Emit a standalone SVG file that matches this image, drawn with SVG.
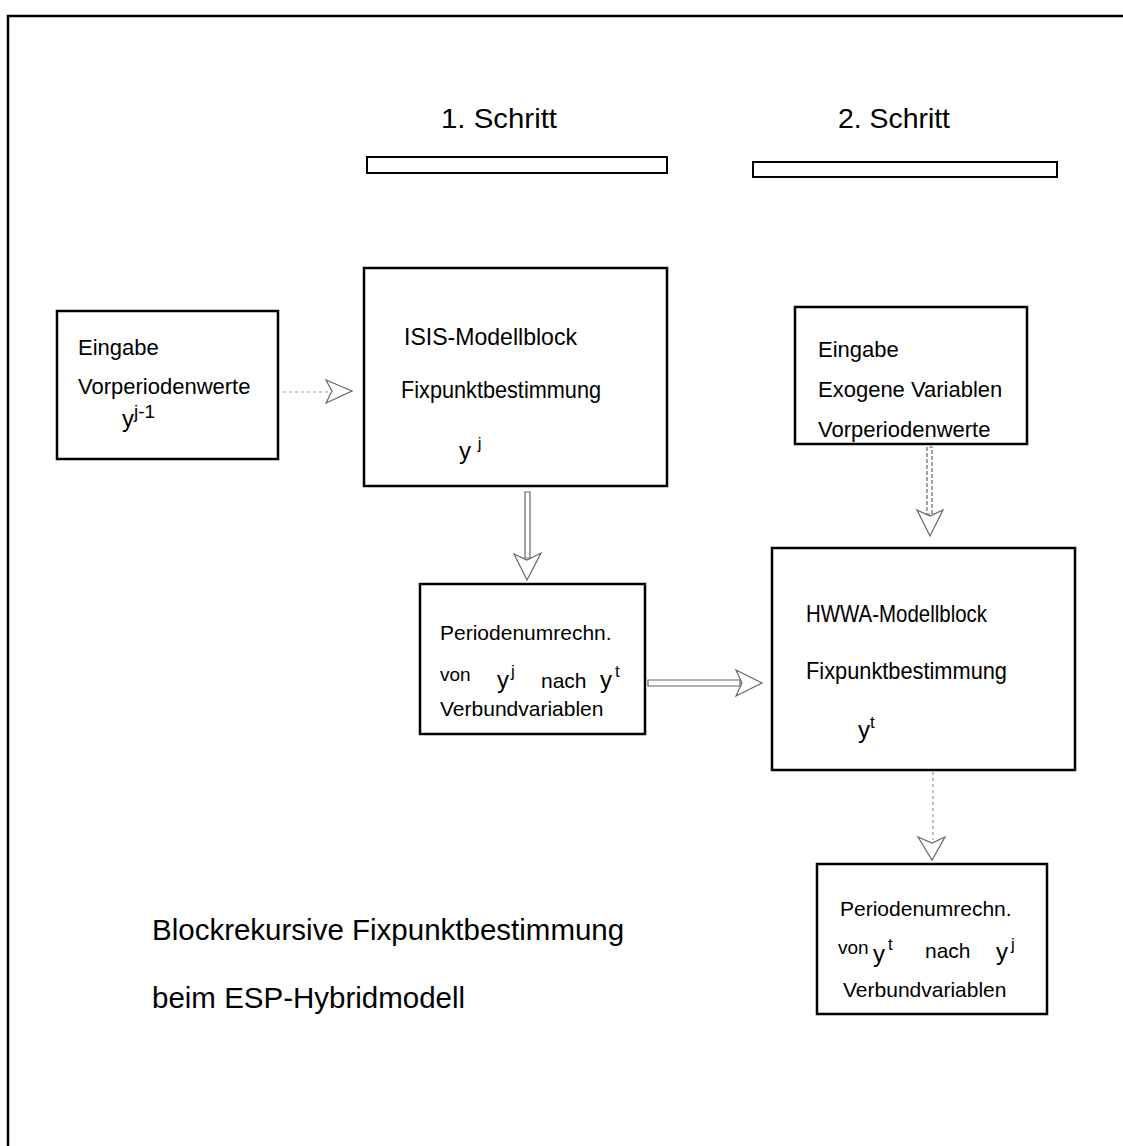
<svg xmlns="http://www.w3.org/2000/svg" width="1123" height="1146" viewBox="0 0 1123 1146">
<style>
 text{font-family:"Liberation Sans",Arial,sans-serif;fill:#000}
 .box{fill:#fff;stroke:#000;stroke-width:2.5}
 .bar{fill:#fff;stroke:#000;stroke-width:2}
 .t{font-size:22px}
 .s{font-size:21px}
 .big{font-size:24px}
 .title{font-size:28px}
 .cap{font-size:29.5px}
 .yv{font-size:24px}
 .sup{font-size:17px}
 .arr{fill:#fff;stroke:#666;stroke-width:1.2}
 .dot{fill:none;stroke:#999;stroke-width:1.2;stroke-dasharray:3 3}
</style>
<rect width="1123" height="1146" fill="#fff"/>
<path d="M8,1146 V16 H1123" fill="none" stroke="#000" stroke-width="2.5"/>

<g id="step1">
 <text x="441" y="128" class="title" textLength="116" lengthAdjust="spacingAndGlyphs">1. Schritt</text>
 <rect class="bar" x="367" y="157" width="300" height="16"/>
</g>
<g id="step2">
 <text x="838" y="128" class="title" textLength="112" lengthAdjust="spacingAndGlyphs">2. Schritt</text>
 <rect class="bar" x="753" y="162" width="304" height="15"/>
</g>

<g id="eingabe1">
 <rect class="box" x="57" y="311" width="221" height="148"/>
 <text x="78" y="355" class="t">Eingabe</text>
 <text x="78" y="394" class="t">Vorperiodenwerte</text>
 <text x="122" y="427" class="yv">y<tspan font-size="19" dy="-9">j-1</tspan></text>
</g>

<g id="isis">
 <rect class="box" x="364" y="268" width="303" height="218"/>
 <text x="404" y="345" class="big" textLength="173" lengthAdjust="spacingAndGlyphs">ISIS-Modellblock</text>
 <text x="401" y="398" class="big" textLength="200" lengthAdjust="spacingAndGlyphs">Fixpunktbestimmung</text>
 <text x="459" y="459" class="yv">y <tspan class="sup" dy="-10">j</tspan></text>
</g>

<g id="periode1">
 <rect class="box" x="420" y="584" width="225" height="150"/>
 <text x="440" y="640" class="s">Periodenumrechn.</text>
 <text x="440" y="681" font-size="19">von</text>
 <text x="497" y="688" class="yv">y</text>
 <text x="511" y="677" class="sup">j</text>
 <text x="541" y="688" class="s">nach</text>
 <text x="600" y="688" class="yv">y</text>
 <text x="615" y="677" class="sup">t</text>
 <text x="440" y="716" class="s">Verbundvariablen</text>
</g>

<g id="eingabe2">
 <rect class="box" x="795" y="307" width="232" height="137"/>
 <text x="818" y="357" class="t">Eingabe</text>
 <text x="818" y="397" class="t">Exogene Variablen</text>
 <text x="818" y="437" class="t">Vorperiodenwerte</text>
</g>

<g id="hwwa">
 <rect class="box" x="772" y="548" width="303" height="222"/>
 <text x="806" y="622" class="big" textLength="181" lengthAdjust="spacingAndGlyphs">HWWA-Modellblock</text>
 <text x="806" y="679" class="big" textLength="201" lengthAdjust="spacingAndGlyphs">Fixpunktbestimmung</text>
 <text x="858" y="738" class="yv">y<tspan class="sup" dy="-10">t</tspan></text>
</g>

<g id="periode2">
 <rect class="box" x="817" y="864" width="230" height="150"/>
 <text x="840" y="916" class="s">Periodenumrechn.</text>
 <text x="838" y="954" font-size="19">von</text>
 <text x="873" y="962" class="yv">y</text>
 <text x="888" y="950" class="sup">t</text>
 <text x="925" y="958" class="s">nach</text>
 <text x="996" y="960" class="yv">y</text>
 <text x="1011" y="950" class="sup">j</text>
 <text x="843" y="997" class="s">Verbundvariablen</text>
</g>

<g id="caption">
 <text x="152" y="940" class="cap">Blockrekursive Fixpunktbestimmung</text>
 <text x="152" y="1008" class="cap">beim ESP-Hybridmodell</text>
</g>

<g id="connectors">
 <line class="dot" x1="283" y1="392" x2="330" y2="392"/>
 <path class="arr" d="M326,380 L352,391 L326,403 L332,391 Z"/>

 <path class="arr" d="M525,492 V558 H530 V492 Z"/>
 <path class="arr" d="M514,554 L527,580 L541,553 L527,560 Z"/>

 <path class="arr" d="M648,680 H740 V686 H648 Z"/>
 <path class="arr" d="M736,670 L762,683 L736,696 L742,683 Z"/>

 <path class="arr" d="M927,447 V514 H932 V447 Z" stroke-dasharray="4 2"/>
 <path class="arr" d="M917,510 L930,536 L943,510 L930,516 Z"/>

 <line class="dot" x1="933" y1="772" x2="933" y2="840"/>
 <path class="arr" d="M918,837 L932,860 L945,837 L932,843 Z"/>
</g>
</svg>
